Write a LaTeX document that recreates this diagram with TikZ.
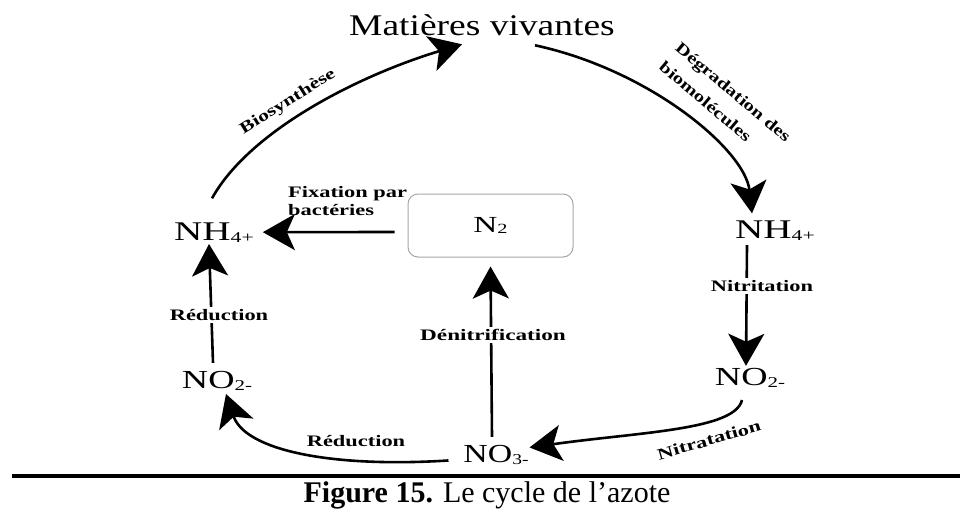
\documentclass[tikz,border=0pt]{standalone}
\usepackage{fontspec}
\setmainfont{Liberation Serif}
\usetikzlibrary{arrows.meta}
\newcommand{\wtxt}[2]{\scalebox{#1}[1]{#2}}
\newcommand{\chemsub}[1]{\raisebox{-2pt}{\fontsize{15}{15}\selectfont #1}}
\begin{document}
\begin{tikzpicture}[x=1pt,y=-1pt,
  chem/.style={inner sep=0pt, outer sep=0pt, anchor=base, font=\fontsize{27}{27}\selectfont},
  lbl/.style={inner sep=1pt, font=\bfseries\fontsize{16}{18}\selectfont},
  whitelbl/.style={lbl, fill=white, inner sep=2pt},
  arr/.style={line width=2.6pt, -{Stealth[length=32pt,width=36pt,inset=8pt]}},
]
\useasboundingbox (0,0) rectangle (960,509);

% nodes
\node[anchor=base, inner sep=0pt, outer sep=0pt, font=\fontsize{30}{30}\selectfont] (mv) at (482,35) {\wtxt{1.25}{Matières vivantes}};
\node[chem] (nhL) at (214,240) {\wtxt{1.45}{NH\chemsub{4+}}};
\node[chem] (nhR) at (775,238) {\wtxt{1.45}{NH\chemsub{4+}}};
\node[chem, font=\fontsize{26}{26}\selectfont] (no2L) at (217,388) {\wtxt{1.4}{NO\chemsub{2-}}};
\node[chem, font=\fontsize{26}{26}\selectfont] (no2R) at (750,385) {\wtxt{1.4}{NO\chemsub{2-}}};
\node[chem, font=\fontsize{26}{26}\selectfont] (no3) at (496,462) {\wtxt{1.3}{NO\chemsub{3-}}};
\node[draw=gray!70, line width=1pt, rounded corners=10pt, minimum width=165pt, minimum height=63pt, inner sep=0pt, font=\fontsize{23}{23}\selectfont] (n2) at (490.5,225.5) {\wtxt{1.45}{N\raisebox{-1pt}{\fontsize{14}{14}\selectfont 2}}};

% connectors
\draw[arr] ([xshift=-2pt,yshift=24pt]nhL.north) .. controls (250,130) and (360,75) .. ([xshift=-20pt,yshift=-9pt]mv.south);
\draw[arr] ([xshift=53pt,yshift=-10pt]mv.south) .. controls (650,70) and (745,150) .. ([xshift=-23pt,yshift=7pt]nhR.north);
\draw[arr] ([xshift=-28pt,yshift=-5pt]nhR.south) -- ([xshift=-4pt,yshift=2pt]no2R.north);
\draw[arr] ([xshift=-8pt,yshift=-13pt]no2R.south) .. controls (735,430) and (640,432) .. ([xshift=1pt,yshift=7pt]no3.east);
\draw[arr] ([xshift=-4pt,yshift=8pt]no3.north) -- ([yshift=-9pt]n2.south);
\draw[arr] ([xshift=-13pt,yshift=-6.5pt]n2.west) -- ([xshift=9pt]nhL.east);
\draw[arr] ([xshift=-4pt,yshift=8pt]no2L.north) -- ([xshift=-5pt,yshift=-2pt]nhL.south);
\draw[arr] ([xshift=-15pt,yshift=-6pt]no3.west) .. controls (330,468) and (245,450) .. ([xshift=9pt,yshift=-4pt]no2L.south);

% labels
\node[lbl, rotate=32] (lbio) at (288,102) {\wtxt{1.35}{Biosynthèse}};
\node[lbl, rotate=-40, font=\bfseries\fontsize{16}{25}\selectfont] (ldeg) at (725,102) {\wtxt{1.3}{\begin{tabular}{@{}l@{}}Dégradation des\\biomolécules\end{tabular}}};
\node[whitelbl] (lnitri) at (762,286) {\wtxt{1.4}{Nitritation}};
\node[lbl, rotate=16] (lnitra) at (709,440) {\wtxt{1.4}{Nitratation}};
\node[whitelbl] (ldenit) at (493,335) {\wtxt{1.45}{Dénitrification}};
\node[whitelbl] (lredL) at (219,315) {\wtxt{1.4}{Réduction}};
\node[lbl] (lredB) at (356,441) {\wtxt{1.4}{Réduction}};
\node[lbl, anchor=west, inner sep=0pt] (lfix) at (288,203) {\wtxt{1.4}{\begin{tabular}{@{}l@{}}Fixation par\\bactéries\end{tabular}}};

% caption rule and caption
\draw[line width=3.5pt] (12,476) -- (960,476);
\node[anchor=base, inner sep=0pt, font=\fontsize{30}{30}\selectfont] (cap) at (487,502) {\textbf{Figure 15.} Le cycle de l’azote};
\end{tikzpicture}
\end{document}
